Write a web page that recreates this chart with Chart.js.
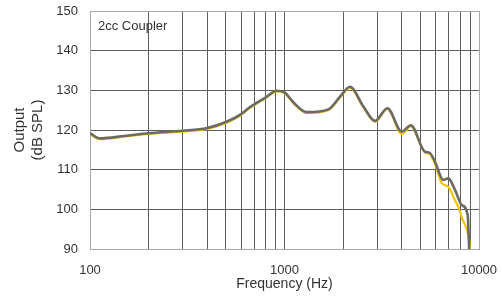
<!DOCTYPE html>
<html>
<head>
<meta charset="utf-8">
<script src="https://cdn.jsdelivr.net/npm/chart.js@4"></script>
<style>
html,body{margin:0;padding:0;background:#fff;}
#wrap{width:502px;height:300px;}
</style>
</head>
<body>
<div id="wrap"><canvas id="c" width="502" height="300"></canvas></div>
<script>
// ---- data ----
const annotationText = '2cc Coupler';
const xTickValues = [100,200,300,400,500,600,700,800,900,1000,2000,3000,4000,5000,6000,7000,8000,9000,10000];
const xLabelValues = [100, 1000, 10000];
const yTickValues = [90,100,110,120,130,140,150];

const grayFreq = [100,112,150,200,300,400,500,590,665,794,912,1000,1110,1300,1680,1930,2170,2540,2920,3380,4010,4460,5280,5560,5940,6550,6950,7530,8150,8750,8900];
const grayDb   = [119.2,117.9,118.5,119.2,119.8,120.5,122.0,123.8,125.8,128.1,129.9,129.5,127.0,124.5,125.2,128.4,130.9,126.0,122.3,125.5,119.6,121.2,114.5,114.3,112.0,107.4,107.8,104.9,101.1,98.5,90.0];

const yellowFreq = [100,112,150,200,300,400,500,590,665,794,912,1000,1110,1300,1680,1930,2170,2540,2920,3380,4010,4460,5280,5560,5940,6430,6950,7530,7850,8150,8710,8920,8980];
const yellowDb   = [119.0,117.7,118.3,119.0,119.6,120.3,121.8,123.6,125.6,127.9,129.7,129.3,126.8,124.3,125.0,128.2,130.7,125.8,122.1,125.3,119.0,121.0,114.3,114.0,111.5,106.6,105.7,102.2,100.5,98.0,94.5,92.0,90.0];

const toPts = (xs, ys) => xs.map((x, i) => ({x: x, y: ys[i]}));

const FONT = "'Liberation Sans', Arial, Helvetica, sans-serif";
const lightGrid = '#a8a8a8';
const darkGrid = '#5e5e5e';

const annotate = {
  id: 'annotate',
  afterDatasetsDraw(chart) {
    const {ctx, chartArea} = chart;
    ctx.save();
    ctx.font = "13px " + FONT;
    ctx.fillStyle = '#333';
    ctx.textAlign = 'left';
    ctx.textBaseline = 'alphabetic';
    ctx.fillText(annotationText, chartArea.left + 8, chartArea.top + 19);
    ctx.restore();
  }
};

new Chart(document.getElementById('c'), {
  type: 'line',
  data: {
    datasets: [
      {
        label: 'Gray',
        data: toPts(grayFreq, grayDb),
        borderColor: '#6b6b64',
        borderWidth: 2.6,
        pointRadius: 0,
        cubicInterpolationMode: 'monotone',
        fill: false
      },
      {
        label: 'Yellow',
        data: toPts(yellowFreq, yellowDb),
        borderColor: '#f2c400',
        borderWidth: 2.2,
        pointRadius: 0,
        cubicInterpolationMode: 'monotone',
        fill: false
      }
    ]
  },
  options: {
    responsive: false,
    animation: false,
    devicePixelRatio: 1,
    layout: {padding: {top: 11, right: 23, left: 0, bottom: 0}},
    plugins: {legend: {display: false}, tooltip: {enabled: false}},
    scales: {
      x: {
        type: 'logarithmic',
        min: 100,
        max: 10000,
        afterBuildTicks(scale) {
          scale.ticks = xTickValues.map(v => ({value: v}));
        },
        afterFit(scale) {
          scale.height = 51;
          scale.paddingLeft = 0;
          scale.paddingRight = 0;
        },
        ticks: {
          autoSkip: false,
          maxRotation: 0,
          padding: 14,
          color: '#333',
          font: {family: FONT, size: 13},
          callback(value) {
            return xLabelValues.includes(value) ? String(value) : '';
          }
        },
        grid: {
          drawTicks: false,
          lineWidth: 1,
          color(ctx) {
            const v = ctx.tick && ctx.tick.value;
            return (v === 100 || v === 10000) ? lightGrid : darkGrid;
          }
        },
        border: {display: true, color: lightGrid, width: 1},
        title: {
          display: true,
          text: 'Frequency (Hz)',
          color: '#333',
          font: {family: FONT, size: 14},
          padding: {top: 0, bottom: 7}
        }
      },
      y: {
        min: 90,
        max: 150,
        afterBuildTicks(scale) {
          scale.ticks = yTickValues.map(v => ({value: v}));
        },
        afterFit(scale) {
          scale.width = 90;
          scale.paddingTop = 0;
          scale.paddingBottom = 0;
        },
        ticks: {
          padding: 12,
          color: '#333',
          font: {family: FONT, size: 13}
        },
        grid: {
          drawTicks: false,
          lineWidth: 1,
          color(ctx) {
            const v = ctx.tick && ctx.tick.value;
            return (v === 90 || v === 150) ? lightGrid : darkGrid;
          }
        },
        border: {display: true, color: lightGrid, width: 1},
        title: {
          display: true,
          text: ['Output', '(dB SPL)'],
          color: '#333',
          font: {family: FONT, size: 15, lineHeight: 1.2},
          padding: {top: 11, bottom: 0}
        }
      }
    }
  },
  plugins: [annotate]
});
</script>
</body>
</html>
